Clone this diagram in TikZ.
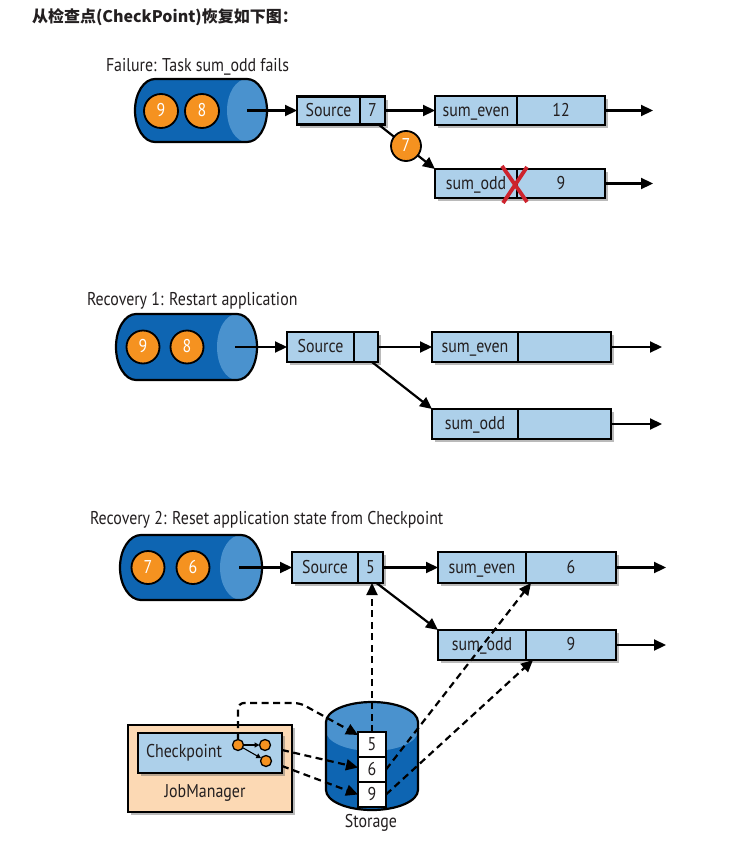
\documentclass[tikz,border=0pt]{standalone}
\usepackage{fontspec}
\newfontfamily\cf{PT Sans}[FakeStretch=0.86]
\newfontfamily\cjk{Noto Sans CJK SC}
\usetikzlibrary{arrows.meta,shadows,calc}
\definecolor{cyldark}{RGB}{14,101,178}
\definecolor{cyllight}{RGB}{74,146,206}
\definecolor{boxblue}{RGB}{173,208,234}
\definecolor{orng}{RGB}{245,146,32}
\definecolor{peach}{RGB}{252,217,180}
\definecolor{xred}{RGB}{205,35,45}
\definecolor{ink}{RGB}{35,31,32}
\newcommand\hqueue[5]{%
  \fill[cyldark] (#2,#3-#5) -- (#1,#3-#5) arc[start angle=270,end angle=90,x radius=#4,y radius=#5] -- (#2,#3+#5) arc[start angle=90,end angle=-90,x radius=#4,y radius=#5] -- cycle;
  \fill[cyllight] (#2,#3) ellipse[x radius=#4,y radius=#5];
  \draw[line width=2.2pt] (#2,#3-#5) -- (#1,#3-#5) arc[start angle=270,end angle=90,x radius=#4,y radius=#5] -- (#2,#3+#5) arc[start angle=90,end angle=-90,x radius=#4,y radius=#5] -- cycle;
}
\begin{document}
\begin{tikzpicture}[x=1pt,y=-1pt,
  every node/.style={font=\cf\fontsize{18.5}{20}\selectfont, inner sep=0pt, outer sep=0pt, text=ink},
  shd/.style={drop shadow={shadow xshift=2.5pt, shadow yshift=-3pt, fill=black!60, opacity=0.45}},
  cell/.style={draw, line width=2.2pt, fill=boxblue, anchor=north west, shd, text height=12pt, text depth=1pt},
  ball/.style={circle, draw, line width=1.8pt, fill=orng, text=white, minimum size=#1, text height=12pt, text depth=1pt},
  dot/.style={circle, draw, line width=1.3pt, fill=orng, minimum size=11},
  sbox/.style={draw, line width=1.6pt, fill=white, minimum width=28, minimum height=25, text height=12pt, text depth=0pt},
  arr/.style={line width=2.2pt, -{Triangle[length=12pt,width=11pt]}},
  dsh/.style={line width=2.2pt, dash pattern=on 7pt off 4.5pt, -{Triangle[length=12pt,width=11pt]}},
]
\useasboundingbox[fill=white] (0,0) rectangle (753,859);

% header
\node[anchor=west, font=\cjk\bfseries\fontsize{16}{18}\selectfont] (hd) at (32,17) {从检查点(CheckPoint)恢复如下图：};

% ---------- Panel 1 ----------
\node[anchor=west] (t1) at (106,67) {Failure: Task sum\_odd fails};
\hqueue{155}{247}{110.5}{20}{31.5}
\node[ball=34] (b19) at (161,111) {9};
\node[ball=34] (b18) at (202,111) {8};
\coordinate (q1) at (247,110.5);
\node[cell, minimum width=63, minimum height=28] (src1) at (297,96.5) {Source};
\node[cell, minimum width=25, minimum height=28] (src1v) at (src1.north east) {7};
\node[cell, minimum width=82, minimum height=29] (se1) at (435,96) {sum\_even};
\node[cell, minimum width=88, minimum height=29] (se1v) at (se1.north east) {12};
\node[cell, minimum width=82, minimum height=29] (so1) at (435,169) {sum\_odd};
\node[cell, minimum width=88, minimum height=29] (so1v) at (so1.north east) {9};
\coordinate (e11) at (653,110.5);
\coordinate (e12) at (653,183.5);
\draw[arr] (q1) -- (src1.west);
\draw[arr] (src1v.east) -- (se1.west);
\draw[arr] (se1v.east) -- (e11);
\draw[arr] (so1v.east) -- (e12);
\draw[arr] ($(src1v.south)+(6,0)$) -- (so1.north west);
\node[ball=30] (b17) at (406,146) {7};
\draw[xred, line width=3.8pt] (502,166) -- (527,202);
\draw[xred, line width=3.8pt] (527,167) -- (503,203);

% ---------- Panel 2 ----------
\node[anchor=west] (t2) at (87,301) {Recovery 1: Restart application};
\hqueue{136}{237}{347}{20}{33}
\node[ball=33] (b29) at (143,347) {9};
\node[ball=33] (b28) at (187,347) {8};
\coordinate (q2) at (235,347);
\node[cell, minimum width=67, minimum height=30] (src2) at (287,332) {Source};
\node[cell, minimum width=24, minimum height=30] (src2v) at (src2.north east) {};
\node[cell, minimum width=86, minimum height=30] (se2) at (432,332) {sum\_even};
\node[cell, minimum width=93, minimum height=30] (se2v) at (se2.north east) {};
\node[cell, minimum width=86, minimum height=30] (so2) at (432,409) {sum\_odd};
\node[cell, minimum width=93, minimum height=30] (so2v) at (so2.north east) {};
\coordinate (e21) at (662,347);
\coordinate (e22) at (662,424);
\draw[arr] (q2) -- (src2.west);
\draw[arr] (src2v.east) -- (se2.west);
\draw[arr] (se2v.east) -- (e21);
\draw[arr] (so2v.east) -- (e22);
\draw[arr] ($(src2v.south)+(6,0)$) -- (so2.north west);

% ---------- Panel 3 ----------
\node[anchor=west] (t3) at (90,520) {Recovery 2: Reset application state from Checkpoint};
\hqueue{141}{241}{567.5}{21}{32.5}
\node[ball=33] (b37) at (148,567.5) {7};
\node[ball=33] (b36) at (193,567.5) {6};
\coordinate (q3) at (239,567.5);
\node[cell, minimum width=66, minimum height=31] (src3) at (292,552) {Source};
\node[cell, minimum width=25, minimum height=31] (src3v) at (src3.north east) {5};
\node[cell, minimum width=88, minimum height=31] (se3) at (438,552) {sum\_even};
\node[cell, minimum width=90, minimum height=31] (se3v) at (se3.north east) {6};
\node[cell, minimum width=88, minimum height=30] (so3) at (438,630) {sum\_odd};
\node[cell, minimum width=90, minimum height=30] (so3v) at (so3.north east) {9};
\coordinate (e31) at (666,567.5);
\coordinate (e32) at (666,645);
\draw[arr] (q3) -- (src3.west);
\draw[arr] (src3v.east) -- (se3.west);
\draw[arr] (se3v.east) -- (e31);
\draw[arr] (so3v.east) -- (e32);
\draw[arr] ($(src3v.south)+(6,0)$) -- (so3.north west);

% JobManager
\node[draw, line width=2.2pt, fill=peach, shd, minimum width=164, minimum height=87, anchor=north west] (jm) at (128,725) {};
\node (jmt) at (205,793) {JobManager};
\node[draw, line width=2.2pt, fill=boxblue, shd, minimum width=144, minimum height=40, anchor=north west] (ckb) at (138,733) {};
\node (ckt) at (184,753) {Checkpoint};
\node[dot] (d1) at (238,745) {};
\node[dot] (d2) at (265,745) {};
\node[dot] (d3) at (266,761) {};
\draw[line width=1.1pt, -{Triangle[length=5pt,width=5pt]}] (d1) -- (d2);
\draw[line width=1.1pt, -{Triangle[length=5pt,width=5pt]}] (d1) -- (d3);

% Storage cylinder
\fill[cyldark] (326,722) -- (326,790) arc[start angle=180,end angle=0,x radius=46,y radius=20] -- (418,722) -- cycle;
\fill[cyllight] (326,722) arc[start angle=180,end angle=360,x radius=46,y radius=20] -- (418,731) arc[start angle=0,end angle=180,x radius=46,y radius=20] -- cycle;
\draw[line width=2.2pt] (326,790) -- (326,722) arc[start angle=180,end angle=360,x radius=46,y radius=20] -- (418,790) arc[start angle=0,end angle=180,x radius=46,y radius=20];
\node[sbox] (s5) at (372,744.5) {5};
\node[sbox] (s6) at (372,769.5) {6};
\node[sbox] (s9) at (372,794.5) {9};
\node (stl) at (371,823) {Storage};

% dashed connectors
\coordinate (o1) at ($(ckb.east)+(0,-3)$);
\coordinate (o2) at ($(ckb.east)+(0,13)$);
\draw[dsh, rounded corners=6pt] (d1.north) -- (238,703) -- (300,703) -- ($(s5.north west)+(0,3)$);
\draw[dsh] (o1) -- ($(s6.west)+(0,-2)$);
\draw[dsh] (o2) -- (s9.west);
\draw[dsh] (s5.north) -- (s5.north |- src3v.south);
\draw[dsh] (s6.east) -- ($(se3v.south west)+(5,0)$);
\draw[dsh] (s9.east) -- ($(so3v.south west)+(7,0)$);
\end{tikzpicture}
\end{document}
